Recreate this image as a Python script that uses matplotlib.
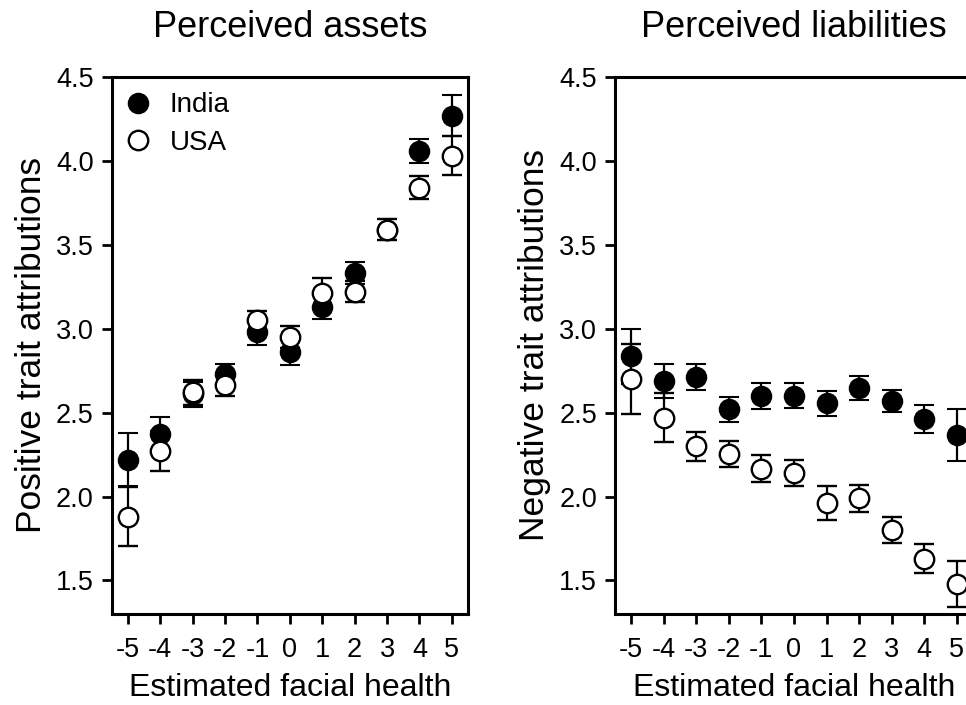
import matplotlib.pyplot as plt

plt.rcParams['font.family'] = ['Liberation Sans', 'DejaVu Sans']

health = [-5, -4, -3, -2, -1, 0, 1, 2, 3, 4, 5]

# perceived assets (positive traits)
pos_india = [2.22, 2.37, 2.61, 2.73, 2.98, 2.86, 3.13, 3.33, 3.59, 4.06, 4.27]
pos_india_err = [0.16, 0.105, 0.075, 0.057, 0.08, 0.075, 0.074, 0.065, 0.064, 0.07, 0.12]
pos_usa = [1.88, 2.27, 2.62, 2.665, 3.05, 2.95, 3.21, 3.22, 3.59, 3.84, 4.03]
pos_usa_err = [0.175, 0.12, 0.077, 0.064, 0.058, 0.064, 0.09, 0.063, 0.064, 0.07, 0.117]

# perceived liabilities (negative traits)
neg_india = [2.835, 2.69, 2.71, 2.52, 2.60, 2.60, 2.555, 2.645, 2.57, 2.46, 2.365]
neg_india_err = [0.165, 0.10, 0.077, 0.075, 0.077, 0.075, 0.076, 0.072, 0.064, 0.083, 0.155]
neg_usa = [2.70, 2.47, 2.30, 2.255, 2.165, 2.14, 1.96, 1.99, 1.80, 1.63, 1.48]
neg_usa_err = [0.21, 0.147, 0.087, 0.078, 0.08, 0.08, 0.10, 0.08, 0.075, 0.087, 0.138]

fig = plt.figure(figsize=(9.66, 7.05), dpi=100)
ax1 = fig.add_axes([0.1156, 0.1291, 0.3689, 0.7617])
ax2 = fig.add_axes([0.6366, 0.1291, 0.3706, 0.7617])


def panel(ax, india, india_err, usa, usa_err, title, ylabel):
    ax.errorbar(health, india, yerr=india_err, fmt='o', color='black',
                ms=14, mfc='black', mec='black', mew=1.5,
                elinewidth=1.6, capsize=7.5, capthick=1.6, label='India', zorder=2)
    ax.errorbar(health, usa, yerr=usa_err, fmt='o', color='black',
                ms=14, mfc='white', mec='black', mew=1.7,
                elinewidth=1.6, capsize=7.5, capthick=1.6, label='USA', zorder=3)
    ax.set_xlim(-5.5, 5.5)
    ax.set_ylim(1.3, 4.5)
    ax.set_xticks(health)
    ax.set_xticklabels([str(h) for h in health])
    ax.set_yticks([1.5, 2.0, 2.5, 3.0, 3.5, 4.0, 4.5])
    ax.tick_params(direction='out', length=7.5, width=2, labelsize=19.5)
    ax.tick_params(axis='x', pad=9)
    ax.tick_params(axis='y', pad=5.5)
    for s in ax.spines.values():
        s.set_linewidth(2.2)
    ax.set_title(title, fontsize=26, y=(614 - 27.5) / 537, pad=0, va='center')
    ax.set_xlabel('Estimated facial health', fontsize=23, va='center')
    ax.xaxis.set_label_coords(0.5, (614 - 688) / 537)
    ax.set_ylabel(ylabel, fontsize=25.5, va='center')
    ax.yaxis.set_label_coords(-0.224, 0.5)


panel(ax1, pos_india, pos_india_err, pos_usa, pos_usa_err,
      'Perceived assets', 'Positive trait attributions')
panel(ax2, neg_india, neg_india_err, neg_usa, neg_usa_err,
      'Perceived liabilities', 'Negative trait attributions')
ax2.yaxis.set_label_coords(-0.2235, 0.5)

h, l = ax1.get_legend_handles_labels()
ax1.legend([x[0] for x in h], l, loc='upper left', frameon=False, fontsize=20,
           handletextpad=0.73, labelspacing=0.42, borderaxespad=0.15,
           borderpad=0.4, handlelength=0.8)

fig.savefig('out.png', dpi=100)
